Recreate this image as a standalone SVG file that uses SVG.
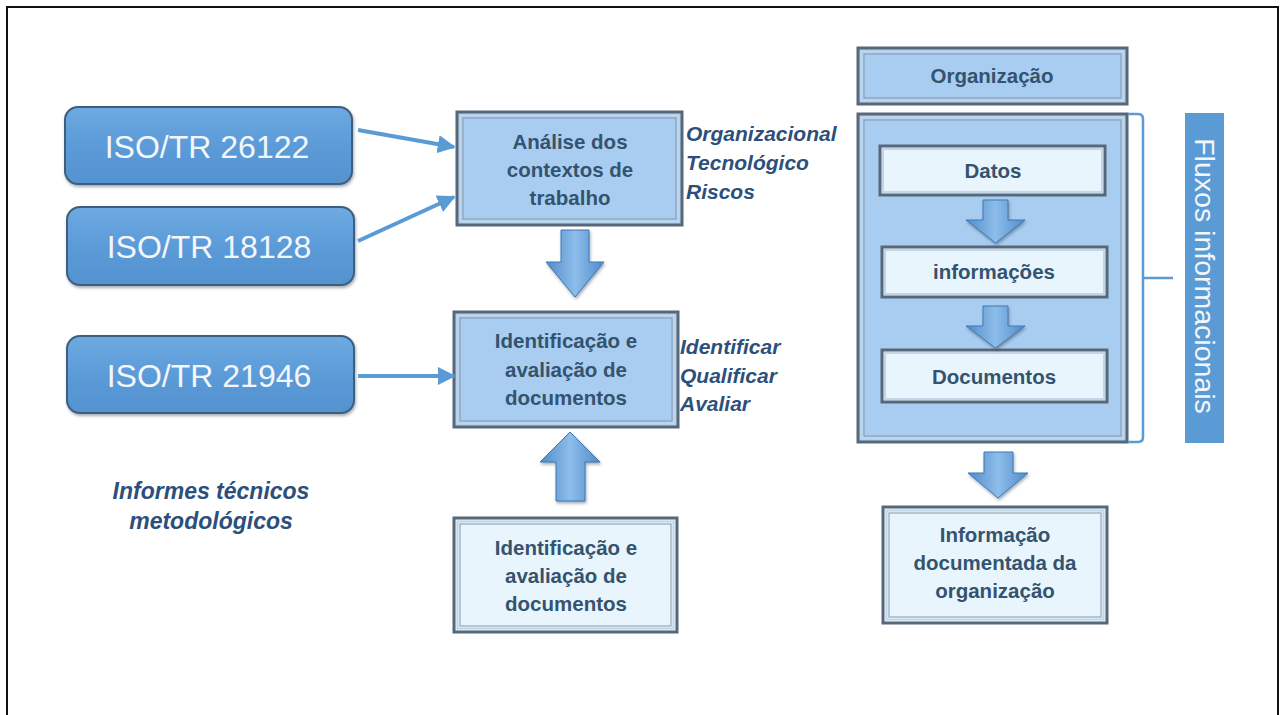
<svg xmlns="http://www.w3.org/2000/svg" width="1285" height="715" viewBox="0 0 1285 715">
  <defs>
    <linearGradient id="isoFill" x1="0" y1="0" x2="0" y2="1">
      <stop offset="0" stop-color="#6eaae2"/>
      <stop offset="0.5" stop-color="#5b9bd8"/>
      <stop offset="1" stop-color="#5592d0"/>
    </linearGradient>
    <linearGradient id="arrowFill" x1="0" y1="0" x2="1" y2="0">
      <stop offset="0" stop-color="#4f8cca"/>
      <stop offset="0.5" stop-color="#8dbdea"/>
      <stop offset="1" stop-color="#4f8cca"/>
    </linearGradient>
    <filter id="shadow" x="-10%" y="-10%" width="120%" height="130%">
      <feDropShadow dx="1" dy="2" stdDeviation="1.5" flood-color="#33475a" flood-opacity="0.45"/>
    </filter>
    <marker id="tip" viewBox="0 0 10 10" refX="9" refY="5" markerWidth="4.5" markerHeight="4.5" orient="auto" markerUnits="strokeWidth">
      <path d="M0,0 L10,5 L0,10 Z" fill="#5b9bd5"/>
    </marker>
    <style>
      .iso { fill: url(#isoFill); stroke: #3f5d7c; stroke-width: 2; filter: url(#shadow); }
      .isoText { font-family: "Liberation Sans", Arial, sans-serif; font-size: 32px; fill: #f3f6fa; text-anchor: middle; }
      .panel { fill: #a9cdf0; stroke: #56687a; stroke-width: 3; }
      .panelPale { fill: #e9f5fc; stroke: #56687a; stroke-width: 3; }
      .bevel { fill: none; stroke: #c3d6e8; stroke-width: 2; }
      .bevelIn { fill: none; stroke: #8397ab; stroke-width: 1; }
      .label { font-family: "Liberation Sans", Arial, sans-serif; font-weight: bold; font-size: 20.5px; fill: #34536f; text-anchor: middle; }
      .note { font-family: "Liberation Sans", Arial, sans-serif; font-weight: bold; font-style: italic; font-size: 21px; fill: #2d4f7c; }
      .note.big { font-size: 23px; text-anchor: middle; }
      .block { fill: url(#arrowFill); stroke: #3f78b4; stroke-width: 1; filter: url(#shadow); }
      .link { stroke: #5b9bd5; stroke-width: 4; fill: none; marker-end: url(#tip); }
      .brace { stroke: #5b9bd5; stroke-width: 2.5; fill: none; }
    </style>
  </defs>

  <rect width="1285" height="715" fill="#ffffff"/>
  <!-- outer frame -->
  <path d="M7,715 V7 H1278 V715" fill="none" stroke="#111111" stroke-width="2"/>

  <!-- standards -->
  <g id="iso-26122">
    <rect class="iso" x="65" y="107" width="287" height="77" rx="13"/>
    <text class="isoText" x="207" y="158">ISO/TR 26122</text>
  </g>
  <g id="iso-18128">
    <rect class="iso" x="67" y="207" width="287" height="78" rx="13"/>
    <text class="isoText" x="209" y="258">ISO/TR 18128</text>
  </g>
  <g id="iso-21946">
    <rect class="iso" x="67" y="336" width="287" height="77" rx="13"/>
    <text class="isoText" x="209" y="387">ISO/TR 21946</text>
  </g>
  <g id="informes">
    <text class="note big" x="211" y="499">Informes técnicos</text>
    <text class="note big" x="211" y="529">metodológicos</text>
  </g>

  <!-- central column -->
  <g id="analise">
    <rect class="panel" x="457" y="112" width="225" height="113"/>
    <rect class="bevel" x="460.5" y="115.5" width="218" height="106"/>
    <rect class="bevelIn" x="463" y="118" width="213" height="101"/>
    <text class="label" x="570" y="149">Análise dos</text>
    <text class="label" x="570" y="177">contextos de</text>
    <text class="label" x="570" y="205">trabalho</text>
  </g>
  <g id="contextos">
    <text class="note" x="686" y="141">Organizacional</text>
    <text class="note" x="686" y="170">Tecnológico</text>
    <text class="note" x="686" y="199">Riscos</text>
  </g>
  <g id="identificacao">
    <rect class="panel" x="454" y="312" width="224" height="115"/>
    <rect class="bevel" x="457.5" y="315.5" width="217" height="108"/>
    <rect class="bevelIn" x="460" y="318" width="212" height="103"/>
    <text class="label" x="566" y="348">Identificação e</text>
    <text class="label" x="566" y="377">avaliação de</text>
    <text class="label" x="566" y="405">documentos</text>
  </g>
  <g id="acoes">
    <text class="note" x="680" y="354">Identificar</text>
    <text class="note" x="680" y="383">Qualificar</text>
    <text class="note" x="680" y="411">Avaliar</text>
  </g>
  <g id="identificacao-base">
    <rect class="panelPale" x="454" y="518" width="223" height="114"/>
    <rect class="bevel" x="457.5" y="521.5" width="216" height="107"/>
    <rect class="bevelIn" x="460" y="524" width="211" height="102"/>
    <text class="label" x="566" y="555">Identificação e</text>
    <text class="label" x="566" y="583">avaliação de</text>
    <text class="label" x="566" y="611">documentos</text>
  </g>

  <!-- organisation column -->
  <g id="organizacao">
    <rect class="panel" x="858" y="48" width="269" height="56"/>
    <rect class="bevel" x="861.5" y="51.5" width="262" height="49"/>
    <rect class="bevelIn" x="864" y="54" width="257" height="44"/>
    <text class="label" x="992" y="83">Organização</text>
  </g>
  <g id="fluxos-container">
    <rect class="panel" x="858" y="114" width="269" height="328"/>
    <rect class="bevel" x="861.5" y="117.5" width="262" height="321"/>
    <rect class="bevelIn" x="864" y="120" width="257" height="316"/>
  </g>
  <g id="datos">
    <rect class="panelPale" x="880" y="146" width="225" height="49"/>
    <rect class="bevel" x="883" y="149" width="219" height="43"/>
    <text class="label" x="993" y="178">Datos</text>
  </g>
  <g id="informacoes">
    <rect class="panelPale" x="882" y="247" width="225" height="50"/>
    <rect class="bevel" x="885" y="250" width="219" height="44"/>
    <text class="label" x="994" y="279">informações</text>
  </g>
  <g id="documentos">
    <rect class="panelPale" x="882" y="350" width="225" height="52"/>
    <rect class="bevel" x="885" y="353" width="219" height="46"/>
    <text class="label" x="994" y="384">Documentos</text>
  </g>
  <g id="informacao-documentada">
    <rect class="panelPale" x="883" y="507" width="224" height="116"/>
    <rect class="bevel" x="886.5" y="510.5" width="217" height="109"/>
    <rect class="bevelIn" x="889" y="513" width="212" height="104"/>
    <text class="label" x="995" y="542">Informação</text>
    <text class="label" x="995" y="570">documentada da</text>
    <text class="label" x="995" y="598">organização</text>
  </g>
  <g id="fluxos-informacionais">
    <rect x="1185" y="113" width="39" height="330" fill="#5b9bd5"/>
    <text x="1194.5" y="276" transform="rotate(90 1194.5 276)" text-anchor="middle" font-family="Liberation Sans, Arial, sans-serif" font-size="28.5" fill="#f3f6fa">Fluxos informacionais</text>
  </g>

  <!-- connectors -->
  <g id="connectors">
    <line class="link" x1="358" y1="130" x2="454" y2="147"/>
    <line class="link" x1="358" y1="241" x2="454" y2="197"/>
    <line class="link" x1="358" y1="376" x2="454" y2="376"/>
    <path class="block" d="M561,230 H589 V262 H604 L575,297 L546,262 H561 Z"/>
    <path class="block" d="M570,432 L600,462 H585 V501 H556 V462 H540 Z"/>
    <path class="block" d="M983,200 H1008 V220 H1025 L995.5,243 L966,220 H983 Z"/>
    <path class="block" d="M983,306 H1008 V326 H1025 L995.5,348 L966,326 H983 Z"/>
    <path class="block" d="M984,452 H1013 V473 H1028 L998,498 L968,473 H984 Z"/>
    <path class="brace" d="M1128,114 H1138 Q1143,114 1143,119 V278 H1173 M1143,278 V437 Q1143,442 1138,442 H1128"/>
  </g>
</svg>
